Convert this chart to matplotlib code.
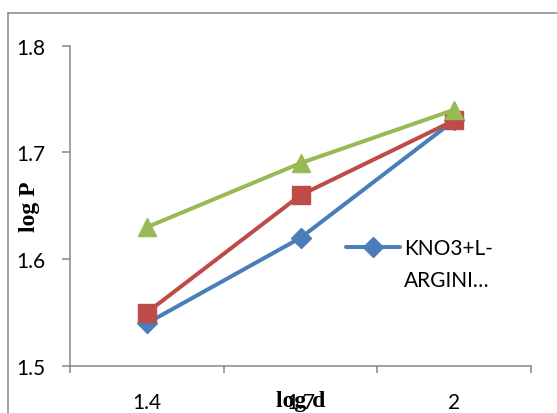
import matplotlib
matplotlib.use("Agg")
import matplotlib.pyplot as plt
import numpy as np
from matplotlib.lines import Line2D
from matplotlib.ticker import FormatStrFormatter
from matplotlib.legend_handler import HandlerLine2D

# ---- data ----
categories = ['1.4', '1.7', '2']
series_blue = [1.54, 1.62, 1.73]
series_red = [1.55, 1.66, 1.73]
series_green = [1.63, 1.69, 1.74]
legend_label = 'KNO3+L-\nARGINI…'
x_label = 'log d'
y_label = 'log P'
y_ticks = [1.5, 1.6, 1.7, 1.8]

plt.rcParams['font.family'] = ['Lato', 'DejaVu Sans']

W, H = 557, 414
fig = plt.figure(figsize=(W / 100, H / 100), dpi=100)
ax = fig.add_axes([70 / W, 47 / H, 461 / W, 320.3 / H])

grey = '#868686'
blue, red, green = '#4A7EBB', '#BE4B48', '#98B954'
x = np.arange(len(categories))

lw = 2.9
l1, = ax.plot(x, series_blue, color=blue, lw=lw, marker='D', ms=10,
              mec=blue, mfc=blue, solid_capstyle='round', solid_joinstyle='round', zorder=3)
ax.plot(x, series_red, color=red, lw=lw, marker='s', ms=13.5,
        mec=red, mfc=red, solid_joinstyle='round', zorder=4)
ax.plot(x, series_green, color=green, lw=lw, marker='^', ms=13,
        mec=green, mfc=green, solid_joinstyle='round', zorder=5)

ax.set_xlim(-0.5, len(categories) - 0.5)
ax.set_ylim(1.5, 1.8)

for s in ['top', 'right']:
    ax.spines[s].set_visible(False)
for s in ['left', 'bottom']:
    ax.spines[s].set_color(grey)
    ax.spines[s].set_linewidth(1.1)

ax.set_xticks(x)
ax.set_xticklabels(categories)
ax.set_xticks(np.arange(len(categories) + 1) - 0.5, minor=True)
ax.tick_params(axis='x', which='major', length=0, pad=19, labelsize=15, labelcolor='black')
ax.tick_params(axis='x', which='minor', length=5, width=1.1, color=grey, direction='out')

ax.set_yticks(y_ticks)
ax.yaxis.set_major_formatter(FormatStrFormatter('%.1f'))
ax.tick_params(axis='y', which='major', length=5.8, width=1.1, color=grey,
               direction='out', pad=12, labelsize=15, labelcolor='black')

ax.set_ylabel(y_label, family='Liberation Serif', fontweight='bold', fontsize=17)
ax.yaxis.set_label_coords(-0.0868, 0.5)
ax.yaxis.label.set_va('center')

ax.set_xlabel(x_label, family='Liberation Serif', fontweight='bold', fontsize=17)
ax.xaxis.set_label_coords(0.5, -0.109)
ax.xaxis.label.set_va('center')


class FirstLineHandler(HandlerLine2D):
    """Align the legend handle with the first line of a two-line label."""
    def __init__(self, shift, **kw):
        super().__init__(**kw)
        self.shift = shift

    def create_artists(self, legend, orig_handle, xdescent, ydescent,
                       width, height, fontsize, trans):
        return super().create_artists(legend, orig_handle, xdescent,
                                      ydescent - 2 * self.shift, width, height,
                                      fontsize, trans)


leg = ax.legend(handles=[l1], labels=[legend_label], loc='upper left',
                bbox_to_anchor=(346 / W, (H - 239) / H), bbox_transform=fig.transFigure,
                frameon=False, borderpad=0, borderaxespad=0,
                handlelength=2.6, handletextpad=0.2, fontsize=15,
                handler_map={l1: FirstLineHandler(shift=12.5)})
for t in leg.get_texts():
    t.set_linespacing(1.72)

# outer chart frame
fx, fy = 7.8 / W, (H - 14) / H
fig.add_artist(Line2D([fx, fx], [0, fy], transform=fig.transFigure, color=grey, lw=1.1))
fig.add_artist(Line2D([fx, 1], [fy, fy], transform=fig.transFigure, color=grey, lw=1.1))

fig.savefig('out.png', dpi=100)
